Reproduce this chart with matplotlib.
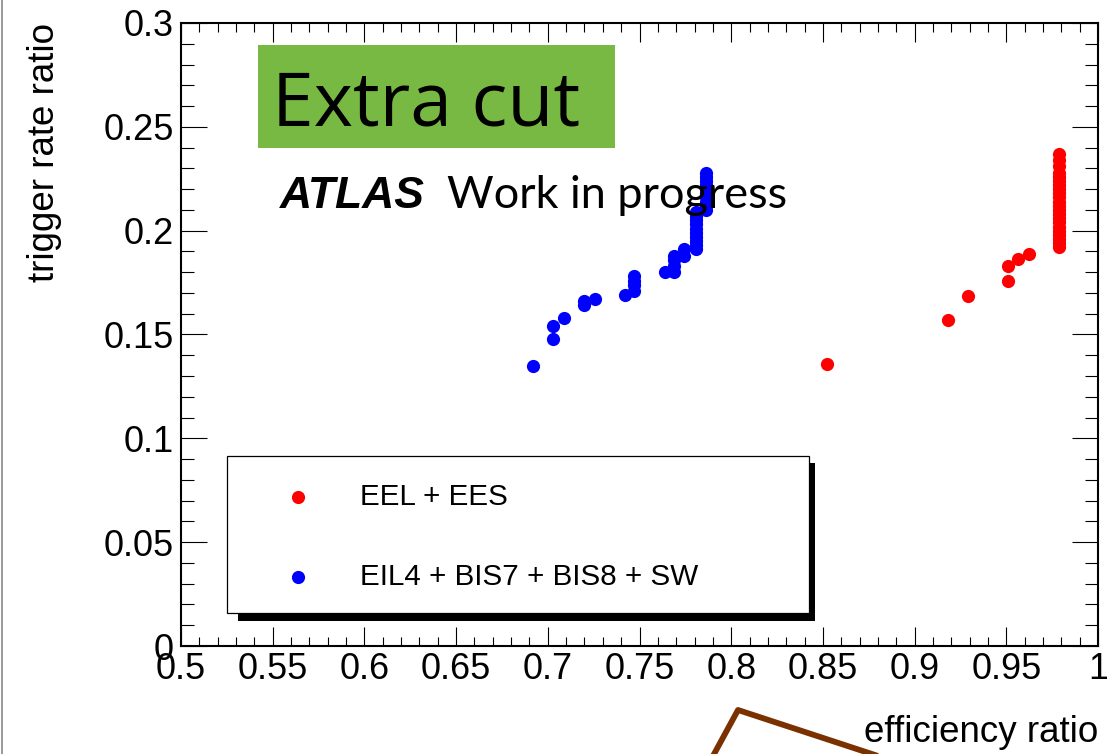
import matplotlib
matplotlib.use('Agg')
import matplotlib.pyplot as plt
from matplotlib.patches import Rectangle
from matplotlib.lines import Line2D
from matplotlib.ticker import MultipleLocator, FuncFormatter

# efficiency ratio vs trigger rate ratio
eel_x = [0.852, 0.918, 0.929, 0.951, 0.951, 0.9565, 0.9625,
         0.979, 0.979, 0.979, 0.979, 0.979, 0.979, 0.979, 0.979, 0.979, 0.979, 0.979,
         0.979, 0.979, 0.979, 0.979, 0.979, 0.979, 0.979, 0.979, 0.979, 0.979, 0.979]
eel_y = [0.136, 0.157, 0.1685, 0.176, 0.183, 0.1865, 0.189,
         0.192, 0.194, 0.196, 0.198, 0.200, 0.202, 0.204, 0.206, 0.208, 0.210, 0.212,
         0.214, 0.216, 0.218, 0.220, 0.222, 0.224, 0.226, 0.228, 0.231, 0.234, 0.237]

eil_x = [0.692, 0.703, 0.703, 0.709, 0.720, 0.720, 0.726, 0.742,
         0.747, 0.747, 0.747, 0.747, 0.764, 0.769, 0.769, 0.769, 0.769, 0.774, 0.774,
         0.781, 0.781, 0.781, 0.781, 0.781, 0.781, 0.781, 0.781, 0.781, 0.781,
         0.786, 0.786, 0.786, 0.786, 0.786, 0.786, 0.786, 0.786, 0.786, 0.786]
eil_y = [0.135, 0.148, 0.154, 0.158, 0.164, 0.166, 0.167, 0.169,
         0.171, 0.174, 0.176, 0.178, 0.180, 0.180, 0.183, 0.186, 0.188, 0.188, 0.191,
         0.191, 0.193, 0.195, 0.197, 0.199, 0.201, 0.203, 0.205, 0.207, 0.209,
         0.210, 0.212, 0.214, 0.216, 0.218, 0.220, 0.222, 0.224, 0.226, 0.228]

labels = ["EEL + EES", "EIL4 + BIS7 + BIS8 + SW"]
colors = ["#ff0000", "#0000ff"]

plt.rcParams['font.family'] = ['Liberation Sans', 'DejaVu Sans']

fig = plt.figure(figsize=(11.07, 7.54), dpi=100)
ax = fig.add_axes([181/1107, 1-646/754, 917/1107, 623/754])

ax.plot(eel_x, eel_y, 'o', color=colors[0], ms=9.5, mew=0)
ax.plot(eil_x, eil_y, 'o', color=colors[1], ms=9.5, mew=0)

ax.set_xlim(0.5, 1.0)
ax.set_ylim(0, 0.3)
ax.xaxis.set_major_locator(MultipleLocator(0.05))
ax.xaxis.set_minor_locator(MultipleLocator(0.01))
ax.yaxis.set_major_locator(MultipleLocator(0.05))
ax.yaxis.set_minor_locator(MultipleLocator(0.01))
fmt = FuncFormatter(lambda v, p: "%g" % round(v, 4))
ax.xaxis.set_major_formatter(fmt)
ax.yaxis.set_major_formatter(fmt)

ax.tick_params(which='both', direction='in', top=True, right=True, width=0.8, labelsize=26)
ax.tick_params(axis='x', which='major', length=13.5, pad=4)
ax.tick_params(axis='x', which='minor', length=6.5)
ax.tick_params(axis='y', which='major', length=18.5, pad=5)
ax.tick_params(axis='y', which='minor', length=9.4)
for s in ax.spines.values():
    s.set_linewidth(1.5)

ax.set_xlabel("efficiency ratio", fontsize=26.5, loc='right')
ax.xaxis.set_label_coords(1.0, -0.11)
ax.set_ylabel("trigger rate ratio", fontsize=26.5, loc='top')
ax.yaxis.set_label_coords(-0.13, 1.0)

# green "Extra cut" box
ax.add_patch(Rectangle((0.084, 0.7994), 0.389, 0.1653, transform=ax.transAxes,
                       facecolor='#78b943', edgecolor='none', zorder=3))
ax.text(0.099, 0.836, "Extra cut", transform=ax.transAxes, fontsize=54,
        family='Open Sans', va='baseline', zorder=4)

ax.text(0.108, 0.703, "ATLAS", transform=ax.transAxes, fontsize=32,
        weight='bold', style='italic', va='baseline', zorder=4)
ax.text(0.29, 0.703, "Work in progress", transform=ax.transAxes, fontsize=32.5,
        family='Lato', va='baseline', zorder=4)

# legend box with ROOT-like shadow
ax.add_patch(Rectangle((0.0622, 0.0401), 0.629, 0.2536, transform=ax.transAxes,
                       facecolor='black', edgecolor='none', zorder=5))
ax.add_patch(Rectangle((0.0502, 0.0530), 0.6347, 0.2520, transform=ax.transAxes,
                       facecolor='white', edgecolor='black', lw=0.9, zorder=6))
rows_y = [(646-497)/623, (646-577)/623]
for lab, c, yy in zip(labels, colors, rows_y):
    ax.plot([(298-181)/917], [yy], 'o', color=c, ms=9.5, mew=0,
            transform=ax.transAxes, zorder=7, clip_on=False)
    ax.text((360-181)/917, yy, lab, transform=ax.transAxes, fontsize=21.3,
            va='center', zorder=7)

# slide decorations outside the plot
fig.add_artist(Line2D([713/1107, 738/1107, 878/1107], [1-756/754, 1-710/754, 1-756/754],
                      color='#7b3000', lw=4.2, transform=fig.transFigure))
fig.add_artist(Line2D([1.5/1107, 1.5/1107], [0, 1], color='#888888', lw=1.2,
                      transform=fig.transFigure))

fig.savefig("out.png", dpi=100)
